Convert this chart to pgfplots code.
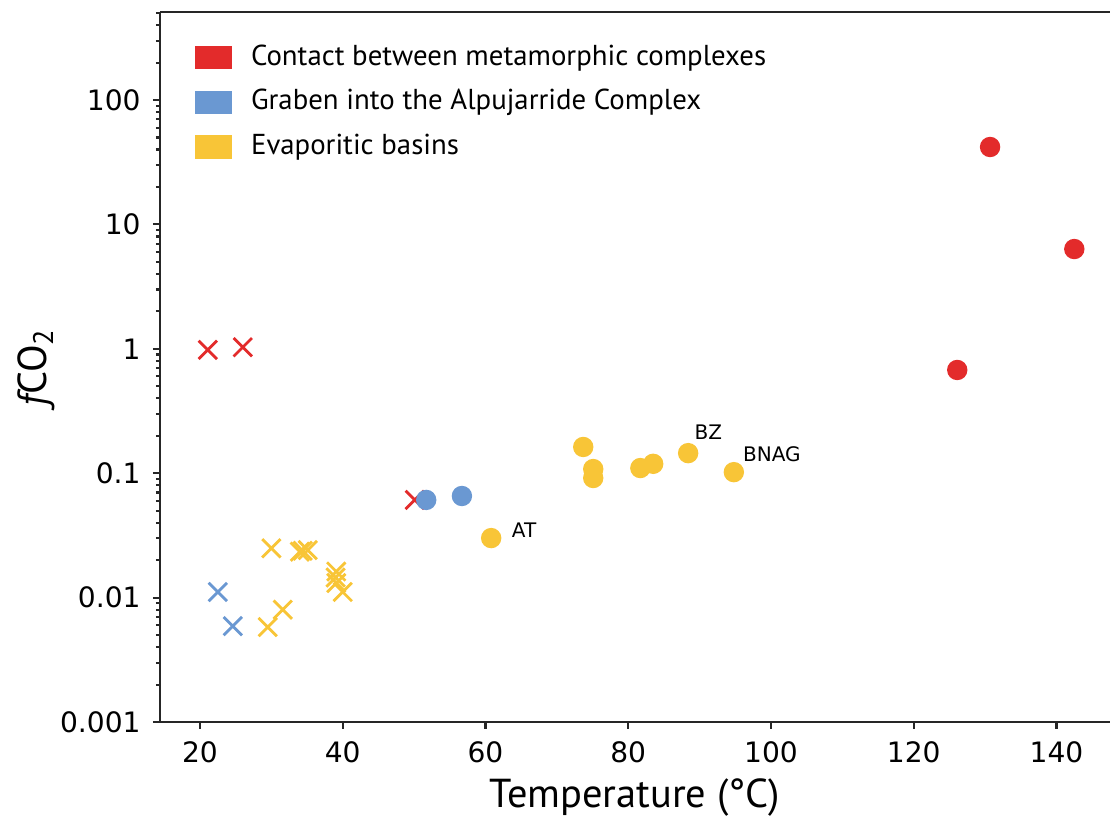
\documentclass[border=0pt]{standalone}
\usepackage{pgfplots}
\pgfplotsset{compat=1.18}
\usepackage{fontspec}
\setmainfont{PT Sans}
\newfontfamily\dejavu{DejaVu Sans}

\definecolor{cred}{HTML}{E32B2B}
\definecolor{cblue}{HTML}{6A98D2}
\definecolor{cyellow}{HTML}{F8C537}

\begin{document}
\begin{tikzpicture}
\begin{axis}[
    scale only axis,
    width=9.5cm, height=7.1cm,
    xmin=14.4, xmax=147.5,
    ymode=log, ymin=0.001, ymax=510,
    axis x line*=bottom, axis y line*=left,
    axis line style={-, line width=0.6pt, black!85},
    tick style={line width=0.6pt, black!85},
    tick align=outside,
    major tick length=0.07cm,
    minor tick length=0.04cm,
    xtick={20,40,...,140},
    ytick={0.001,0.01,0.1,1,10,100},
    yticklabels={0.001,0.01,0.1,1,10,100},
    minor ytick={0.002,0.003,0.004,0.005,0.006,0.007,0.008,0.009,
                 0.02,0.03,0.04,0.05,0.06,0.07,0.08,0.09,
                 0.2,0.3,0.4,0.5,0.6,0.7,0.8,0.9,
                 2,3,4,5,6,7,8,9,20,30,40,50,60,70,80,90,200,300,400,500},
    ticklabel style={font=\dejavu\fontsize{8}{9}\selectfont},
    /pgf/number format/assume math mode=true,
    xlabel={Temperature (°C)},
    ylabel={{\itshape f}CO\textsubscript{2}},
    label style={font=\fontsize{11.5}{13}\selectfont, inner sep=1pt},
    xlabel style={at={(axis description cs:0.5,-0.121)}, anchor=base},
    ylabel style={at={(axis description cs:-0.13,0.5)}, anchor=center},
    legend style={draw=none, fill=none, at={(rel axis cs:0.0357,0.965)},
        anchor=north west, font=\fontsize{8.2}{10}\selectfont,
        row sep=0.05cm, inner sep=0pt,
        /tikz/every odd column/.append style={column sep=0.12cm}},
    legend cell align=left,
    legend image code/.code={\fill (0cm,-0.11cm) rectangle (0.36cm,0.11cm);},
    clip=false,
]
\addlegendimage{cred}
\addlegendentry{Contact between metamorphic complexes}
\addlegendimage{cblue}
\addlegendentry{Graben into the Alpujarride Complex}
\addlegendimage{cyellow}
\addlegendentry{Evaporitic basins}

% crosses
\addplot[only marks, mark=x, mark size=3.7pt, line width=0.8pt, cred, forget plot]
    coordinates {(21.1,0.98) (26.0,1.03) (50.1,0.061)};
\addplot[only marks, mark=x, mark size=3.7pt, line width=0.8pt, cblue, forget plot]
    coordinates {(22.5,0.0111) (24.6,0.0059)};
\addplot[only marks, mark=x, mark size=3.7pt, line width=0.8pt, cyellow, forget plot]
    coordinates {(30.0,0.0249) (34.0,0.0234) (34.4,0.0238) (35.1,0.0241)
                 (39.1,0.0162) (39.0,0.0145) (39.1,0.0131) (40.0,0.0111)
                 (31.6,0.0080) (29.5,0.0058)};
% circles
\addplot[only marks, mark=*, mark size=2.7pt, cred, forget plot]
    coordinates {(126.1,0.676) (130.7,41.9) (142.5,6.34)};
\addplot[only marks, mark=*, mark size=2.7pt, cblue, forget plot]
    coordinates {(51.7,0.061) (56.7,0.0656)};
\addplot[only marks, mark=*, mark size=2.7pt, cyellow, forget plot]
    coordinates {(60.8,0.0301) (73.7,0.1625) (75.1,0.108) (75.1,0.0915)
                 (81.7,0.110) (83.5,0.119) (88.4,0.145) (94.8,0.102)};

\draw[line width=0.6pt, black!85] (rel axis cs:0,1) -- (rel axis cs:1,1);

\node[anchor=west, inner sep=0pt, font=\dejavu\fontsize{5.7}{7}\selectfont] at (axis cs:63.6,0.0349) {AT};
\node[anchor=west, inner sep=0pt, font=\dejavu\fontsize{5.7}{7}\selectfont] at (axis cs:89.2,0.214) {BZ};
\node[anchor=west, inner sep=0pt, font=\dejavu\fontsize{5.7}{7}\selectfont] at (axis cs:96.0,0.1427) {BNAG};

\coordinate (SW) at (rel axis cs:0,0);
\coordinate (NE) at (rel axis cs:1,1);
\end{axis}
\pgfresetboundingbox
\path[use as bounding box] ([shift={(-1.6cm,-1.03cm)}]SW) rectangle ([shift={(0cm,0.12cm)}]NE);
\end{tikzpicture}
\end{document}
